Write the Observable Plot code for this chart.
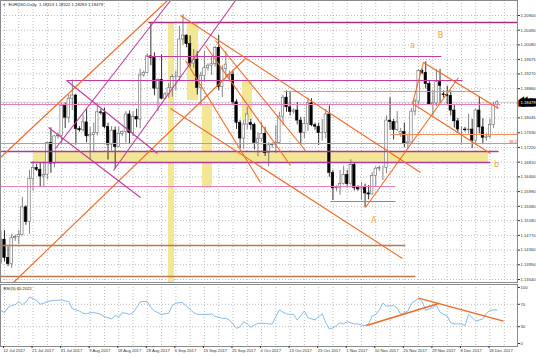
<!DOCTYPE html>
<html><head><meta charset="utf-8">
<script src="https://cdn.jsdelivr.net/npm/d3@7"></script>
<script src="https://cdn.jsdelivr.net/npm/@observablehq/plot@0.6"></script>
<style>body{margin:0;background:#fff}svg{display:block}#c{width:536px;height:357px;overflow:hidden;background:#fff}</style>
</head><body><div id="c"></div>
<script>
// ---------------- data ----------------
const symbolTitle = "EURUSD,Daily  1.18413 1.18522 1.18283 1.18479";
const rsiTitle = "RSI(5) 60.2021";
const lastPrice = 1.18479;
// trading days (Sun–Fri bars), 11 Jul 2017 .. 20 Dec 2017
const dates = d3.utcDays(new Date("2017-07-11"), new Date("2017-12-21")).filter(d => d.getUTCDay() !== 6);
const opens = [1.1400,1.1465,1.1414,1.1397,1.1469,1.1472,1.1478,1.1555,1.1514,1.1634,1.1665,1.1660,1.1641,1.1646,1.1735,1.1677,1.1753,1.1755,1.1838,1.1805,1.1858,1.1867,1.1773,1.1770,1.1792,1.1753,1.1757,1.1763,1.1820,1.1818,1.1779,1.1730,1.1769,1.1723,1.1760,1.1765,1.1814,1.1762,1.1807,1.1800,1.1923,1.1930,1.1976,1.1972,1.1886,1.1910,1.1858,1.1870,1.1887,1.1918,1.1919,1.2023,1.2034,1.2010,1.1956,1.1967,1.1888,1.1921,1.1943,1.1950,1.1954,1.2000,1.1891,1.1940,1.1920,1.1925,1.1848,1.1791,1.1747,1.1786,1.1790,1.1785,1.1735,1.1745,1.1760,1.1706,1.1728,1.1730,1.1735,1.1808,1.1861,1.1834,1.1821,1.1825,1.1797,1.1763,1.1787,1.1845,1.1784,1.1780,1.1762,1.1763,1.1814,1.1651,1.1608,1.1610,1.1620,1.1645,1.1620,1.1673,1.1609,1.1605,1.1609,1.1594,1.1591,1.1643,1.1663,1.1665,1.1665,1.1797,1.1793,1.1771,1.1760,1.1765,1.1733,1.1736,1.1822,1.1850,1.1935,1.1930,1.1899,1.1842,1.1845,1.1904,1.1870,1.1868,1.1866,1.1825,1.1795,1.1772,1.1772,1.1770,1.1772,1.1741,1.1825,1.1778,1.1749,1.1752,1.1785,1.18413];
const highs = [1.1490,1.1490,1.1445,1.1480,1.1478,1.1490,1.1583,1.1560,1.1658,1.1683,1.1675,1.1678,1.1681,1.1737,1.1777,1.1755,1.1762,1.1845,1.1846,1.1868,1.1910,1.1869,1.1780,1.1813,1.1828,1.1778,1.1790,1.1845,1.1828,1.1832,1.1790,1.1780,1.1779,1.1779,1.1768,1.1822,1.1824,1.1821,1.1829,1.1940,1.1935,1.1983,1.2070,1.1986,1.1913,1.1980,1.1875,1.1900,1.1925,1.1935,1.2060,1.2092,1.2036,1.2033,1.1995,1.1989,1.1932,1.1990,1.1955,1.1975,1.2004,1.2035,1.1950,1.1990,1.1935,1.1935,1.1855,1.1798,1.1797,1.1834,1.1800,1.1790,1.1763,1.1792,1.1778,1.1735,1.1735,1.1783,1.1820,1.1868,1.1880,1.1875,1.1830,1.1847,1.1806,1.1806,1.1860,1.1858,1.1790,1.1790,1.1800,1.1828,1.1838,1.1658,1.1615,1.1658,1.1670,1.1658,1.1688,1.1680,1.1615,1.1624,1.1620,1.1616,1.1652,1.1668,1.1670,1.1670,1.1810,1.1861,1.1800,1.1822,1.1775,1.1790,1.1755,1.1831,1.1856,1.1939,1.1940,1.1961,1.1907,1.1880,1.1939,1.1940,1.1880,1.1893,1.1880,1.1839,1.1803,1.1780,1.1778,1.1815,1.1800,1.1829,1.1863,1.1802,1.1760,1.1801,1.1848,1.18522];
const lows = [1.1396,1.1403,1.1390,1.1385,1.1460,1.1452,1.1475,1.1505,1.1480,1.1600,1.1655,1.1612,1.1613,1.1632,1.1650,1.1665,1.1745,1.1730,1.1775,1.1790,1.1825,1.1729,1.1765,1.1765,1.1735,1.1688,1.1710,1.1754,1.1812,1.1774,1.1687,1.1712,1.1662,1.1722,1.1752,1.1734,1.1730,1.1752,1.1777,1.1774,1.1918,1.1927,1.1950,1.1866,1.1822,1.1856,1.1855,1.1859,1.1862,1.1880,1.1905,1.2007,1.2000,1.1945,1.1943,1.1868,1.1837,1.1905,1.1935,1.1923,1.1946,1.1880,1.1861,1.1918,1.1905,1.1840,1.1772,1.1718,1.1717,1.1772,1.1770,1.1715,1.1696,1.1737,1.1697,1.1668,1.1720,1.1705,1.1730,1.1782,1.1820,1.1810,1.1815,1.1785,1.1730,1.1747,1.1767,1.1780,1.1770,1.1728,1.1740,1.1746,1.1639,1.1574,1.1600,1.1589,1.1617,1.1609,1.1615,1.1601,1.1600,1.1575,1.1554,1.1576,1.1590,1.1610,1.1655,1.1630,1.1649,1.1770,1.1743,1.1767,1.1750,1.1722,1.1716,1.1735,1.1810,1.1840,1.1925,1.1885,1.1840,1.1810,1.1836,1.1846,1.1860,1.1840,1.1810,1.1776,1.1764,1.1729,1.1765,1.1760,1.1719,1.1730,1.1760,1.1730,1.1740,1.1747,1.1775,1.18283];
const closes = [1.1465,1.1414,1.1397,1.1469,1.1472,1.1478,1.1555,1.1514,1.1634,1.1665,1.1660,1.1641,1.1646,1.1735,1.1677,1.1753,1.1755,1.1838,1.1805,1.1858,1.1867,1.1773,1.1770,1.1792,1.1753,1.1757,1.1763,1.1820,1.1818,1.1779,1.1730,1.1769,1.1723,1.1760,1.1765,1.1814,1.1762,1.1807,1.1800,1.1923,1.1930,1.1976,1.1972,1.1886,1.1910,1.1858,1.1870,1.1887,1.1918,1.1919,1.2023,1.2034,1.2010,1.1956,1.1967,1.1888,1.1921,1.1943,1.1950,1.1954,1.2000,1.1891,1.1940,1.1953,1.1925,1.1848,1.1791,1.1747,1.1786,1.1814,1.1785,1.1735,1.1745,1.1760,1.1706,1.1728,1.1730,1.1735,1.1808,1.1861,1.1834,1.1821,1.1825,1.1797,1.1763,1.1787,1.1845,1.1784,1.1780,1.1762,1.1763,1.1814,1.1651,1.1608,1.1610,1.1620,1.1645,1.1620,1.1673,1.1609,1.1605,1.1609,1.1594,1.1591,1.1643,1.1663,1.1665,1.1665,1.1797,1.1793,1.1771,1.1792,1.1765,1.1733,1.1736,1.1822,1.1850,1.1935,1.1930,1.1899,1.1842,1.1845,1.1904,1.1894,1.1868,1.1866,1.1825,1.1795,1.1772,1.1772,1.1770,1.1772,1.1741,1.1825,1.1778,1.1749,1.1752,1.1785,1.1841,1.18479];
const rsiValues = [59,55,64,68,69,75,69,74,83,80, 77,70,72,75,76,77,77,78,76,75, 62,60,58,54,53,55,55,54,52,48, 46,44,50,47,55,54,52,55,64,74, 75,75,64,58,55,52,53,54,68,72, 73,73,66,61,55,52,52,52,52,53, 48,47,45,45,42,35,27,30,39,35, 29,33,36,36,36,35,35,48,60,56, 53,52,52,42,50,58,46,44,42,48, 53,37,26,28,32,37,35,39,37,35, 35,33,32,35,49,52,60,72,67,67, 68,63,52,55,58,72,76,81,75,59, 62,65,68,56,52,49,37,35,35,35, 32,52,46,40,42,44,54,59,60,60];
const priceTicks = [1.20900,1.20490,1.20080,1.19675,1.19270,1.18860,1.18045,1.17630,1.17220,1.16810,1.16400,1.15990,1.15580,1.15180,1.14770,1.14360,1.13950,1.13540];
const priceGrid = [...priceTicks, 1.18450];
const rsiTicks = [100,70,30,0];
const rsiLevels = [70,30];
const dateTickBars = [0,8,16,24,32,40,48,56,64,72,80,88,96,104,112,120,128,136];
// chart drawings: [fromBar, toBar, price, group]
const levelLines = [
  [40.3,143.7,1.20705,"top"],[39.8,122.4,1.19757,"mag"],[17.4,128.3,1.19088,"mag"],
  [78.2,133.3,1.18781,"sal"],[-1.12,138.9,1.18419,"pink"],[108.1,143.7,1.17582,"sal"],
  [-1.12,143.7,1.17331,"pink"],[-1.12,138.4,1.17108,"pur"],[7.3,136.1,1.16802,"pur"],
  [-1.12,109.5,1.16133,"pink"],[91.3,109.5,1.15714,"ora"],[-1.12,112.3,1.14488,"brown"],
  [-1.12,115.1,1.13623,"brown"]
];
// [bar1, price1, bar2, price2, group]
const trendLines = [
  [-1.12,1.16941,45.66,1.21318,"ora"],[2.52,1.13456,67.51,1.19701,"ora"],
  [49.3,1.20900,116.53,1.16523,"ora"],[46.5,1.18307,111.48,1.14125,"ora"],
  [50.7,1.19645,71.71,1.16244,"ora"],[56.3,1.20064,80.11,1.16718,"ora"],
  [59.1,1.20203,84.31,1.17136,"ora"],[101.12,1.15547,127.17,1.19171,"ora"],
  [117.37,1.19590,138.38,1.18307,"ora"],[114.29,1.18447,136.13,1.17053,"ora"],
  [117.37,1.19590,114.29,1.18447,"ora"],
  [17.37,1.19088,42.86,1.17053,"mag"],[12.32,1.17777,38.1,1.15826,"mag"],
  [14.29,1.17192,46.5,1.21318,"mag"],[30.53,1.16579,64.71,1.21318,"mag"]
];
// [bar1, bar2, price1, price2]
const zones = [
  [8.12,135.57,1.16802,1.17080],[45.94,47.62,1.13456,1.20705],
  [51.26,54.34,1.18530,1.20705],[55.46,58.26,1.16077,1.18391],[66.67,69.47,1.17972,1.19088]
];
const waveLabels = [[114.3,1.20064,"a"],[122.1,1.20342,"B"],[103.4,1.15185,"A"],[137.8,1.16746,"b"]];
const fibLabel = [[143.5,1.17345,"38.2"]];
// RSI trend lines: [bar1, rsi1, bar2, rsi2]
const rsiLines = [[101.4,32,121.8,72],[116.0,81,139.8,40]];

// ---------------- styles ----------------
const COL = {top:"#a8307f", mag:"#c23b9e", pur:"#aa3a9e", pink:"#e77fbe", sal:"#f2905e", ora:"#f26a26", brown:"#b67a52"};
const WID = {top:1.5, mag:1.1, pur:1.3, pink:1.1, sal:1.2, ora:1.1, brown:1.6};
const X_DOMAIN = [-1.12, 143.7];
const FONT = "Liberation Sans, Arial, sans-serif";
const FS = 4.2;
const gridIdx = d3.range(0, 143, 4);

const bars = dates.map((d,k) => ({i:k-1, date:d, o:opens[k], h:highs[k], l:lows[k], c:closes[k], rsi:rsiValues[k]}));
const lv = levelLines.map(([a,b,p,g]) => ({a,b,p,g}));
const tl = trendLines.map(([a,p,b,q,g]) => ({a,p,b,q,g}));
const zn = zones.map(([a,b,p,q]) => ({a,b,p,q}));
const fmtDate = d3.utcFormat("%-d %b %Y");
const up = d => d.c >= d.o;

const main = Plot.plot({
  width:536, height:283, marginLeft:0, marginRight:19, marginTop:0, marginBottom:1,
  x:{domain:X_DOMAIN, axis:null},
  y:{domain:[1.13456,1.21318], axis:null},
  style:{fontFamily:FONT, fontSize:FS+"px", background:"#fff"},
  marks:[
    Plot.gridX(gridIdx, {stroke:"#bdbdbd", strokeOpacity:1, strokeDasharray:"1,2"}),
    Plot.gridY(priceGrid, {stroke:"#bdbdbd", strokeOpacity:1, strokeDasharray:"1,2"}),
    Plot.rect(zn, {x1:"a", x2:"b", y1:"p", y2:"q", fill:"#f3e796"}),
    Plot.ruleY([lastPrice], {stroke:"#b0b0b0", strokeWidth:0.6}),
    Plot.ruleX(bars, {x:"i", y1:"l", y2:"h", stroke:d=>up(d)?"#666":"#000", strokeWidth:0.8}),
    Plot.rect(bars, {x1:d=>d.i-0.34, x2:d=>d.i+0.34, y1:"o", y2:"c", fill:d=>up(d)?"#fff":"#000", stroke:d=>up(d)?"#666":"#000", strokeWidth:0.6}),
    Plot.link(lv, {x1:"a", x2:"b", y1:"p", y2:"p", stroke:d=>COL[d.g], strokeWidth:d=>WID[d.g]}),
    Plot.link(tl, {x1:"a", x2:"b", y1:"p", y2:"q", stroke:d=>COL[d.g], strokeWidth:d=>WID[d.g]}),
    Plot.text(waveLabels, {x:d=>d[0], y:d=>d[1], text:d=>d[2], fill:"#f4a33a", fontSize:8, fontFamily:"DejaVu Sans, sans-serif"}),
    Plot.text(fibLabel, {x:d=>d[0], y:d=>d[1], text:d=>d[2], fill:"#e0504a", fontSize:FS, textAnchor:"end", lineAnchor:"bottom"}),
    Plot.frame({stroke:"#8a8a8a"}),
    Plot.axisY(priceTicks, {anchor:"right", tickSize:2, tickPadding:1, tickFormat:d=>d.toFixed(5), fontSize:FS, color:"#333", label:null}),
    Plot.text([lastPrice], {x:X_DOMAIN[1], y:d=>d, text:d=>d.toFixed(5), textAnchor:"start", dx:3, fill:"#fff", stroke:"#000", strokeWidth:5, strokeLinejoin:"miter", fontSize:FS}),
    Plot.text(["▼"], {frameAnchor:"top-left", dx:2, dy:3, fontSize:3, fill:"#333", textAnchor:"start", lineAnchor:"top"}),
    Plot.text([symbolTitle], {frameAnchor:"top-left", dx:8, dy:2.5, fontSize:FS, fill:"#222", textAnchor:"start", lineAnchor:"top"})
  ]
});

const rsiPlot = Plot.plot({
  width:536, height:74, marginLeft:0, marginRight:19, marginTop:1, marginBottom:11,
  x:{domain:X_DOMAIN, axis:null},
  y:{domain:[-5.3,105.3], axis:null},
  style:{fontFamily:FONT, fontSize:FS+"px", background:"#fff"},
  marks:[
    Plot.gridX(gridIdx, {stroke:"#bdbdbd", strokeOpacity:1, strokeDasharray:"1,2"}),
    Plot.ruleY(rsiLevels, {stroke:"#bdbdbd", strokeDasharray:"1,2"}),
    Plot.line(bars, {x:"i", y:"rsi", stroke:"#78b2e6", strokeWidth:0.9}),
    Plot.link(rsiLines, {x1:d=>d[0], y1:d=>d[1], x2:d=>d[2], y2:d=>d[3], stroke:"#f26a26", strokeWidth:1.5}),
    Plot.frame({stroke:"#8a8a8a"}),
    Plot.axisY(rsiTicks, {anchor:"right", tickSize:2, tickPadding:1, fontSize:FS, color:"#333", label:null}),
    Plot.axisX(dateTickBars, {anchor:"bottom", tickSize:2, tickPadding:1, tickFormat:i=>fmtDate(dates[i+1]), textAnchor:"start", dx:-1, fontSize:FS, color:"#333", label:null}),
    Plot.text([rsiTitle], {frameAnchor:"top-left", dx:3, dy:2.5, fontSize:FS, fill:"#222", textAnchor:"start", lineAnchor:"top"})
  ]
});

const c = document.getElementById("c");
c.appendChild(main);
c.appendChild(rsiPlot);
</script>
</body></html>
